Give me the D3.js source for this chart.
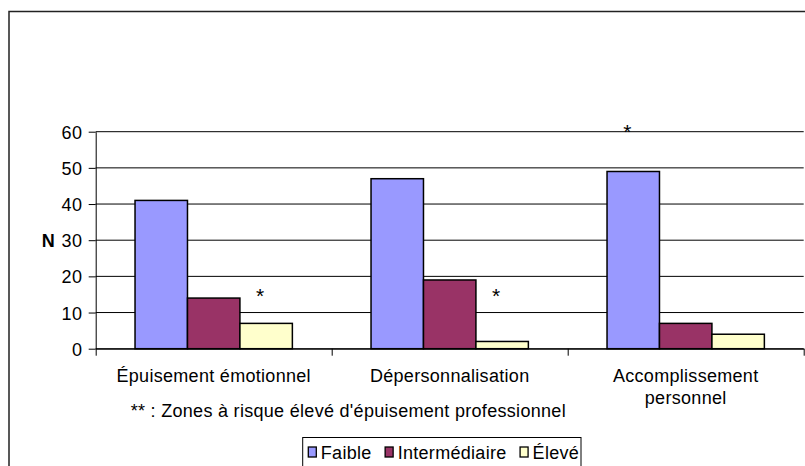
<!DOCTYPE html>
<html>
<head>
<meta charset="utf-8">
<script src="https://cdn.jsdelivr.net/npm/d3@7"></script>
<style>
  html, body { margin: 0; padding: 0; background: #fff; }
  svg { display: block; }
  text { font-family: "Liberation Sans", Arial, sans-serif; fill: #000; }
</style>
</head>
<body>
<svg id="chart" width="805" height="466"></svg>
<script>
// Burnout dimensions (Maslach subscales) by level, counts N
const categories = ["Épuisement émotionnel", "Dépersonnalisation", "Accomplissement personnel"];
const seriesNames = ["Faible", "Intermédiaire", "Élevé"];
const faible = [41, 47, 49];
const intermediaire = [14, 19, 7];
const eleve = [7, 2, 4];
const yTicks = [0, 10, 20, 30, 40, 50, 60];
const seriesColors = ["#9999FF", "#993366", "#FFFFCC"];
// asterisks marking high-risk zones: category index, series index, level in N
const starCategory = [0, 1, 2];
const starSeries = [2, 2, 0];
const starLevel = [15.5, 15.5, 61];
const footnote = "** : Zones à risque élevé d'épuisement professionnel";

const seriesValues = [faible, intermediaire, eleve];
const rows = [];
categories.forEach((c, ci) => seriesNames.forEach((s, si) => rows.push({ cat: c, series: s, si, value: seriesValues[si][ci] })));

const svg = d3.select("#chart");
const FONT = 18, LS = "0.3px";

// chart area frame
svg.append("rect")
  .attr("x", 9).attr("y", 11.5).attr("width", 1000).attr("height", 1000)
  .attr("fill", "#fff").attr("stroke", "#222").attr("stroke-width", 1.5);

const plot = { left: 95.7, right: 803.7, top: 131.7, bottom: 348.7 };

const x = d3.scaleBand().domain(categories).range([plot.left, plot.right]).paddingInner(0).paddingOuter(0);
const xs = d3.scaleBand().domain(seriesNames).range([0, x.bandwidth()]).paddingInner(0).paddingOuter(0.75);
const y = d3.scaleLinear().domain([0, 60]).range([plot.bottom, plot.top]);

// horizontal gridlines
svg.append("g").selectAll("line").data(yTicks).join("line")
  .attr("x1", plot.left).attr("x2", plot.right)
  .attr("y1", d => y(d)).attr("y2", d => y(d))
  .attr("stroke", "#000").attr("stroke-width", 1);

// bars
svg.append("g").selectAll("rect").data(rows).join("rect")
  .attr("x", d => x(d.cat) + xs(d.series))
  .attr("y", d => y(d.value))
  .attr("width", xs.bandwidth())
  .attr("height", d => y(0) - y(d.value))
  .attr("fill", d => seriesColors[d.si])
  .attr("stroke", "#000").attr("stroke-width", 1.5);

// y axis
const yAxis = svg.append("g").attr("transform", `translate(${plot.left},0)`)
  .call(d3.axisLeft(y).tickValues(yTicks).tickSize(7).tickSizeOuter(0).tickPadding(6.5));
yAxis.select(".domain").attr("stroke", "#000");
yAxis.selectAll(".tick line").attr("stroke", "#000");
yAxis.selectAll("text").style("font-size", FONT + "px").style("letter-spacing", LS)
  .attr("font-family", null).attr("fill", "#000").attr("dy", "0.36em");

// category boundary ticks along the baseline
const xb = d3.scaleLinear().domain([0, categories.length]).range([plot.left, plot.right]);
const xAxis = svg.append("g").attr("transform", `translate(0,${plot.bottom})`)
  .call(d3.axisBottom(xb).tickValues(d3.range(categories.length + 1)).tickFormat("").tickSize(7).tickSizeOuter(0));
xAxis.select(".domain").attr("stroke", "#000");
xAxis.selectAll(".tick line").attr("stroke", "#000");

// category labels, wrapped on two lines where needed
const wrapWidth = 200;
svg.append("g").selectAll("text").data(categories).join("text")
  .attr("x", d => x(d) + x.bandwidth() / 2)
  .attr("y", 381.5)
  .attr("text-anchor", "middle")
  .style("font-size", FONT + "px").style("letter-spacing", LS)
  .each(function (d) {
    const t = d3.select(this);
    const words = d.split(" ");
    let line = [];
    let lines = [];
    const tmp = t.append("tspan");
    words.forEach(w => {
      const trial = line.concat([w]).join(" ");
      tmp.text(trial);
      if (tmp.node().getComputedTextLength() > wrapWidth && line.length) {
        lines.push(line.join(" "));
        line = [w];
      } else line.push(w);
    });
    lines.push(line.join(" "));
    tmp.remove();
    lines.forEach((l, i) => t.append("tspan").attr("x", x(d) + x.bandwidth() / 2).attr("dy", i ? 22 : 0).text(l));
  });

// y axis title
svg.append("text").attr("x", 48.3).attr("y", y(30)).attr("dy", "0.36em")
  .attr("text-anchor", "middle").style("font-size", FONT + "px").style("font-weight", "bold")
  .text("N");

// asterisks
svg.append("g").selectAll("text").data(starLevel).join("text")
  .attr("x", (d, i) => x(categories[starCategory[i]]) + xs(seriesNames[starSeries[i]]) + xs.bandwidth() / 2 - 6)
  .attr("y", d => y(d)).attr("dy", "0.5em")
  .attr("text-anchor", "middle").style("font-size", "21px")
  .text("*");

// footnote
svg.append("text").attr("x", 348.3).attr("y", 417).attr("text-anchor", "middle")
  .style("font-size", FONT + "px").style("letter-spacing", LS)
  .text(footnote);

// legend
const legend = svg.append("g");
legend.append("rect").attr("x", 302.7).attr("y", 437.5).attr("width", 278.3).attr("height", 40)
  .attr("fill", "#fff").attr("stroke", "#000").attr("stroke-width", 1);
let lx = 308.3;
seriesNames.forEach((s, i) => {
  legend.append("rect").attr("x", lx).attr("y", 447).attr("width", 8).attr("height", 10)
    .attr("fill", seriesColors[i]).attr("stroke", "#000").attr("stroke-width", 1.3);
  const t = legend.append("text").attr("x", lx + 12.5).attr("y", 458.5)
    .style("font-size", FONT + "px").style("letter-spacing", LS).text(s);
  lx += 12.5 + t.node().getComputedTextLength() + 13.5;
});
</script>
</body>
</html>
